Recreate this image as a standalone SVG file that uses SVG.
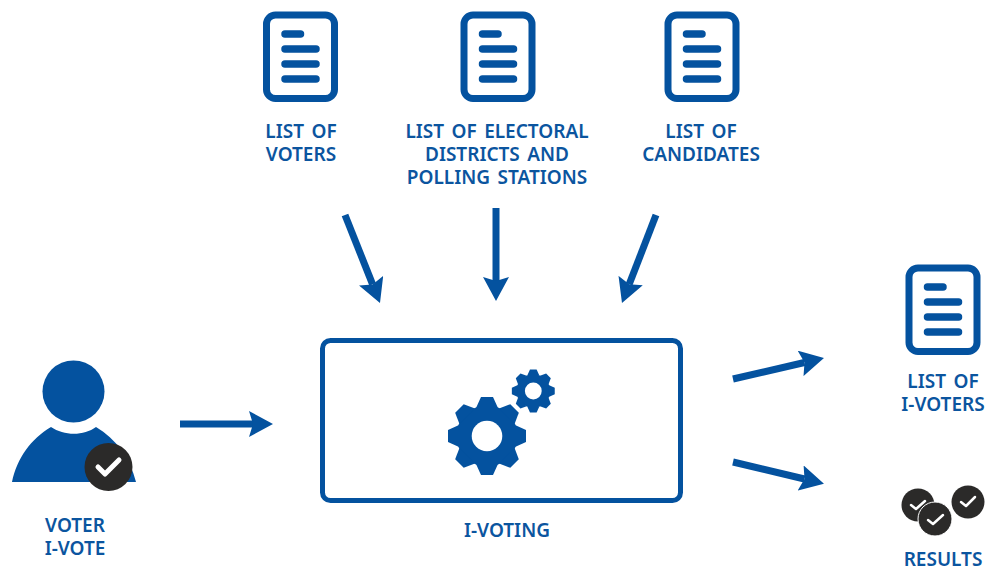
<svg xmlns="http://www.w3.org/2000/svg" xmlns:xlink="http://www.w3.org/1999/xlink" width="985" height="568" viewBox="0 0 985 568">
<style>
.l{font-family:"Noto Sans","Open Sans",sans-serif;font-weight:600;font-size:19px;word-spacing:2.500px;fill:#0b559f;text-anchor:middle}
.f{fill:#04529f}
.a{stroke:#04529f;stroke-width:7;fill:none;marker-end:url(#h)}
.k{fill:#2b2a29}
.c{fill:none;stroke:#fff;stroke-linecap:round;stroke-linejoin:round}
</style>
<defs>
<marker id="h" markerUnits="userSpaceOnUse" viewBox="0 0 24 26" refX="4" refY="13" markerWidth="24" markerHeight="26" orient="auto"><path d="M0 0L24 13L0 26L4 13Z" fill="#04529f"/></marker>
<g id="doc">
<rect x="266.500" y="15" width="68" height="83.500" rx="9" fill="none" stroke="#04529f" stroke-width="7"/>
<path d="M285 34H300.500M285 49H316M285 64H316M285 79H316" stroke="#04529f" stroke-width="7.500" stroke-linecap="round" fill="none"/>
</g>
<g id="t"><path class="f" d="M-11-28L-6-39H6L11-28Z"/></g>
<g id="gear">
<circle r="30.500" class="f"/>
<use xlink:href="#t"/>
<use xlink:href="#t" transform="rotate(45)"/>
<use xlink:href="#t" transform="rotate(90)"/>
<use xlink:href="#t" transform="rotate(135)"/>
<use xlink:href="#t" transform="rotate(180)"/>
<use xlink:href="#t" transform="rotate(225)"/>
<use xlink:href="#t" transform="rotate(270)"/>
<use xlink:href="#t" transform="rotate(315)"/>
<circle r="15.300" fill="#fff"/>
</g>
</defs>
<g id="connectors">
<path class="a" d="M345 215L372.600 284.400"/>
<path class="a" d="M496 208V281"/>
<path class="a" d="M656 215L629.200 284.300"/>
<path class="a" d="M180 424H253"/>
<path class="a" d="M733 379L804.500 362.500"/>
<path class="a" d="M733 462L804.500 479"/>
</g>
<g id="list-of-voters"><use xlink:href="#doc"/><text class="l" y="137.500"><tspan x="301">LIST OF</tspan><tspan x="301" dy="23">VOTERS</tspan></text></g>
<g id="list-of-districts"><use xlink:href="#doc" x="197.500"/><text class="l" y="137.500"><tspan x="497">LIST OF ELECTORAL</tspan><tspan x="497" dy="23">DISTRICTS AND</tspan><tspan x="497" dy="23">POLLING STATIONS</tspan></text></g>
<g id="list-of-candidates"><use xlink:href="#doc" x="401.500"/><text class="l" y="137.500"><tspan x="701">LIST OF</tspan><tspan x="701" dy="23">CANDIDATES</tspan></text></g>
<g id="i-voting">
<rect x="322.500" y="340.500" width="358" height="160" rx="8" fill="none" stroke="#04529f" stroke-width="5"/>
<use xlink:href="#gear" transform="translate(487 436)"/>
<use xlink:href="#gear" transform="translate(533.300 391) scale(.55)"/>
<text class="l" x="507" y="537">I-VOTING</text>
</g>
<g id="voter">
<circle class="f" cx="73.500" cy="391.500" r="31"/>
<path class="f" d="M12 482C17 458 31 439 51 427C64 436 84 436 96 427C116 439 130 458 136 482Z"/>
<circle class="k" cx="108.500" cy="467" r="24"/>
<path class="c" stroke-width="5" d="M98 467L105 474L119 460"/>
<text class="l" y="531.500"><tspan x="75">VOTER</tspan><tspan x="75" dy="23.500">I-VOTE</tspan></text>
</g>
<g id="list-of-i-voters"><use xlink:href="#doc" x="642.500" y="253"/><text class="l" y="387.500"><tspan x="943">LIST OF</tspan><tspan x="943" dy="23.500">I-VOTERS</tspan></text></g>
<g id="results">
<circle class="k" cx="918" cy="505" r="16.500"/>
<path class="c" stroke-width="2.500" d="M911 505L916 509L925 501"/>
<circle class="k" cx="968" cy="502" r="16.500"/>
<path class="c" stroke-width="2.500" d="M961 502L966 506L975 497"/>
<circle class="k" cx="935" cy="519" r="17" stroke="#fff" stroke-width="1"/>
<path class="c" stroke-width="2.500" d="M928 520L933 524L943 515"/>
<text class="l" x="943" y="566">RESULTS</text>
</g>
</svg>
